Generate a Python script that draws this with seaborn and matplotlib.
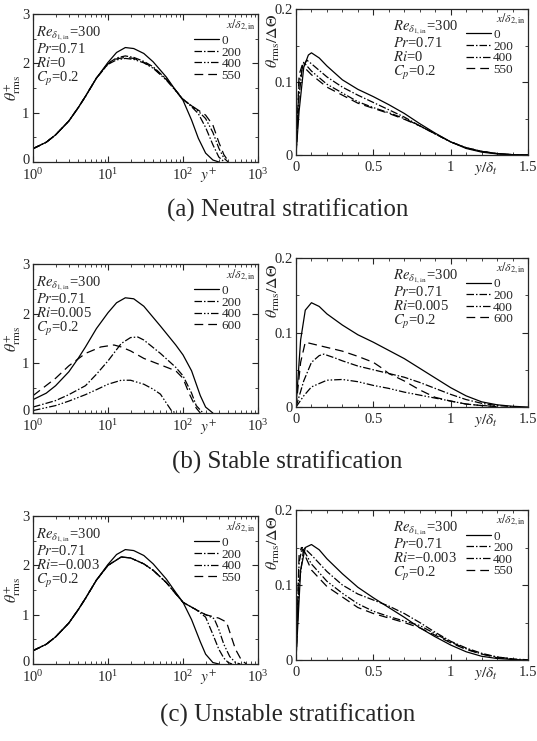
import numpy as np
import pandas as pd
import matplotlib
matplotlib.use("Agg")
import matplotlib.pyplot as plt
from matplotlib.lines import Line2D
from matplotlib.ticker import MultipleLocator
from matplotlib.transforms import ScaledTranslation
import seaborn as sns

# ---- data ----
# log-x panels: y+ vs theta+_rms
yp_a0 = [1, 1.5, 2, 3, 4, 5, 7, 10, 13, 17, 22, 30, 40, 60, 80, 100, 130, 160, 200, 250, 300]
th_a0 = [0.27, 0.4, 0.55, 0.83, 1.1, 1.33, 1.7, 2.02, 2.22, 2.32, 2.3, 2.2, 2.03, 1.72, 1.45, 1.25, 0.85, 0.48, 0.18, 0.04, 0.0]
yp_a200 = [1, 1.5, 2, 3, 4, 5, 7, 10, 13, 17, 22, 30, 40, 60, 80, 100, 130, 160, 200, 250, 300, 350]
th_a200 = [0.27, 0.4, 0.55, 0.83, 1.1, 1.33, 1.7, 2.0, 2.11, 2.15, 2.12, 2.04, 1.93, 1.68, 1.45, 1.27, 1.12, 0.98, 0.7, 0.35, 0.1, 0.01]
yp_a400 = [1, 1.5, 2, 3, 4, 5, 7, 10, 13, 17, 22, 30, 40, 60, 80, 100, 130, 160, 200, 250, 300, 350, 400]
th_a400 = [0.27, 0.4, 0.55, 0.83, 1.1, 1.33, 1.7, 1.98, 2.07, 2.1, 2.08, 2.01, 1.9, 1.66, 1.44, 1.27, 1.14, 1.03, 0.88, 0.6, 0.28, 0.08, 0.0]
yp_a550 = [1, 1.5, 2, 3, 4, 5, 7, 10, 13, 17, 22, 30, 40, 60, 80, 100, 130, 160, 200, 250, 300, 350, 400]
th_a550 = [0.27, 0.4, 0.55, 0.83, 1.1, 1.33, 1.7, 1.99, 2.09, 2.12, 2.1, 2.02, 1.91, 1.67, 1.45, 1.27, 1.14, 1.05, 0.95, 0.75, 0.4, 0.15, 0.02]

yp_b0 = [1, 1.5, 2, 3, 4, 5, 7, 10, 13, 17, 22, 30, 50, 80, 100, 130, 170, 200, 250]
th_b0 = [0.27, 0.4, 0.55, 0.83, 1.1, 1.33, 1.7, 2.02, 2.22, 2.32, 2.3, 2.15, 1.75, 1.37, 1.17, 0.85, 0.35, 0.12, 0.0]
yp_b200 = [1, 2, 3, 5, 7, 10, 15, 20, 25, 30, 50, 80, 100, 130, 150, 180]
th_b200 = [0.12, 0.25, 0.37, 0.55, 0.78, 1.05, 1.4, 1.52, 1.53, 1.47, 1.2, 0.92, 0.75, 0.4, 0.15, 0.02]
yp_b400 = [1, 2, 3, 5, 7, 10, 15, 20, 30, 40, 50, 60, 70, 80]
th_b400 = [0.05, 0.15, 0.24, 0.37, 0.47, 0.58, 0.66, 0.66, 0.58, 0.48, 0.38, 0.2, 0.05, 0.0]
yp_b600 = [1, 2, 3, 5, 8, 12, 15, 20, 30, 50, 80, 100, 120, 150, 170]
th_b600 = [0.35, 0.7, 0.95, 1.2, 1.33, 1.37, 1.33, 1.25, 1.1, 0.97, 0.85, 0.7, 0.4, 0.1, 0.0]

yp_c0 = [1, 1.5, 2, 3, 4, 5, 7, 10, 13, 17, 22, 30, 40, 60, 80, 100, 130, 170, 200, 250, 300]
th_c0 = [0.27, 0.4, 0.55, 0.83, 1.1, 1.33, 1.7, 2.02, 2.22, 2.32, 2.3, 2.2, 2.03, 1.72, 1.45, 1.25, 0.9, 0.45, 0.2, 0.03, 0.0]
yp_c200 = [1, 1.5, 2, 3, 4, 5, 7, 10, 15, 20, 30, 40, 60, 100, 150, 200, 250, 300, 350, 400, 450]
th_c200 = [0.27, 0.4, 0.55, 0.83, 1.1, 1.33, 1.7, 2.0, 2.17, 2.15, 2.03, 1.9, 1.65, 1.25, 1.1, 0.95, 0.6, 0.3, 0.12, 0.03, 0.0]
yp_c400 = [1, 1.5, 2, 3, 4, 5, 7, 10, 15, 20, 30, 40, 60, 100, 150, 200, 260, 300, 350, 420, 500, 580]
th_c400 = [0.27, 0.4, 0.55, 0.83, 1.1, 1.33, 1.7, 2.0, 2.17, 2.15, 2.03, 1.9, 1.65, 1.25, 1.1, 1.0, 0.92, 0.7, 0.4, 0.15, 0.03, 0.0]
yp_c550 = [1, 1.5, 2, 3, 4, 5, 7, 10, 15, 20, 30, 40, 60, 100, 150, 200, 300, 380, 430, 500, 600, 700]
th_c550 = [0.27, 0.4, 0.55, 0.83, 1.1, 1.33, 1.7, 2.0, 2.17, 2.15, 2.03, 1.9, 1.65, 1.25, 1.1, 1.0, 0.93, 0.85, 0.6, 0.3, 0.08, 0.0]

# linear panels: y/delta_t vs theta_rms/DeltaTheta
yd_a0 = [0, 0.02, 0.05, 0.08, 0.1, 0.15, 0.2, 0.3, 0.4, 0.5, 0.6, 0.7, 0.8, 0.9, 1.0, 1.1, 1.2, 1.3, 1.4, 1.5]
tr_a0 = [0, 0.06, 0.12, 0.137, 0.14, 0.133, 0.122, 0.103, 0.09, 0.08, 0.069, 0.057, 0.043, 0.03, 0.018, 0.009, 0.004, 0.0015, 0.0005, 0]
yd_a200 = [0, 0.02, 0.04, 0.07, 0.1, 0.2, 0.3, 0.4, 0.5, 0.6, 0.7, 0.8, 0.9, 1.0, 1.1, 1.2, 1.3, 1.4, 1.5]
tr_a200 = [0, 0.08, 0.12, 0.13, 0.125, 0.107, 0.093, 0.082, 0.072, 0.062, 0.052, 0.04, 0.029, 0.018, 0.01, 0.005, 0.002, 0.0005, 0]
yd_a400 = [0, 0.02, 0.05, 0.1, 0.2, 0.3, 0.4, 0.5, 0.6, 0.7, 0.8, 0.9, 1.0, 1.1, 1.2, 1.3, 1.4, 1.5]
tr_a400 = [0, 0.1, 0.127, 0.115, 0.097, 0.085, 0.073, 0.065, 0.058, 0.05, 0.04, 0.029, 0.018, 0.01, 0.005, 0.002, 0.0005, 0]
yd_a550 = [0, 0.02, 0.04, 0.1, 0.2, 0.3, 0.4, 0.5, 0.6, 0.7, 0.8, 0.9, 1.0, 1.1, 1.2, 1.3, 1.4, 1.5]
tr_a550 = [0, 0.11, 0.123, 0.11, 0.093, 0.082, 0.071, 0.064, 0.057, 0.049, 0.04, 0.029, 0.018, 0.01, 0.005, 0.002, 0.0005, 0]

yd_b0 = [0, 0.03, 0.06, 0.1, 0.15, 0.2, 0.3, 0.4, 0.5, 0.6, 0.7, 0.8, 0.9, 1.0, 1.1, 1.2, 1.3, 1.4, 1.5]
tr_b0 = [0, 0.09, 0.13, 0.14, 0.135, 0.125, 0.11, 0.097, 0.087, 0.076, 0.065, 0.052, 0.039, 0.026, 0.015, 0.007, 0.003, 0.001, 0]
yd_b200 = [0, 0.05, 0.1, 0.15, 0.18, 0.25, 0.3, 0.4, 0.5, 0.6, 0.7, 0.8, 0.9, 1.0, 1.1, 1.2, 1.3, 1.4]
tr_b200 = [0, 0.035, 0.06, 0.069, 0.071, 0.066, 0.062, 0.055, 0.05, 0.045, 0.04, 0.033, 0.025, 0.017, 0.01, 0.005, 0.002, 0.0005]
yd_b400 = [0, 0.05, 0.1, 0.2, 0.3, 0.4, 0.5, 0.6, 0.7, 0.8, 0.9, 1.0, 1.1, 1.2, 1.3]
tr_b400 = [0, 0.015, 0.027, 0.036, 0.037, 0.034, 0.029, 0.025, 0.02, 0.016, 0.012, 0.008, 0.004, 0.002, 0.001]
yd_b600 = [0, 0.03, 0.06, 0.2, 0.3, 0.4, 0.5, 0.55, 0.6, 0.7, 0.8, 0.9, 1.0, 1.1, 1.2, 1.3]
tr_b600 = [0, 0.06, 0.087, 0.08, 0.075, 0.068, 0.06, 0.053, 0.045, 0.035, 0.023, 0.013, 0.008, 0.004, 0.002, 0.0005]

yd_c0 = [0, 0.03, 0.06, 0.1, 0.15, 0.2, 0.3, 0.4, 0.5, 0.6, 0.7, 0.8, 0.9, 1.0, 1.1, 1.2, 1.3, 1.4, 1.5]
tr_c0 = [0, 0.12, 0.15, 0.154, 0.147, 0.135, 0.115, 0.097, 0.083, 0.07, 0.057, 0.043, 0.031, 0.02, 0.011, 0.005, 0.002, 0.0007, 0]
yd_c200 = [0, 0.02, 0.05, 0.1, 0.2, 0.3, 0.4, 0.5, 0.6, 0.7, 0.8, 0.9, 1.0, 1.1, 1.2, 1.3, 1.4, 1.5]
tr_c200 = [0, 0.1, 0.15, 0.14, 0.118, 0.1, 0.088, 0.08, 0.072, 0.062, 0.05, 0.037, 0.025, 0.016, 0.009, 0.004, 0.0015, 0.0003]
yd_c400 = [0, 0.02, 0.04, 0.1, 0.2, 0.3, 0.4, 0.5, 0.6, 0.7, 0.8, 0.9, 1.0, 1.1, 1.2, 1.3, 1.4]
tr_c400 = [0, 0.13, 0.15, 0.128, 0.105, 0.089, 0.075, 0.065, 0.058, 0.052, 0.046, 0.035, 0.024, 0.015, 0.008, 0.004, 0.0015]
yd_c550 = [0, 0.02, 0.035, 0.1, 0.2, 0.3, 0.4, 0.5, 0.6, 0.7, 0.8, 0.9, 1.0, 1.1, 1.2, 1.3, 1.4]
tr_c550 = [0, 0.14, 0.15, 0.12, 0.098, 0.084, 0.07, 0.062, 0.056, 0.05, 0.043, 0.033, 0.023, 0.014, 0.008, 0.003, 0.001]

labels_a = ["0", "200", "400", "550"]
labels_b = ["0", "200", "400", "600"]
labels_c = ["0", "200", "400", "550"]

ri_values = ["0", "0.005", "\u22120.003"]
captions = ["(a) Neutral stratification", "(b) Stable stratification", "(c) Unstable stratification"]

# ---- style ----
sns.set_style("ticks")
plt.rcParams["font.family"] = ["Liberation Serif", "DejaVu Serif"]
plt.rcParams["mathtext.fontset"] = "stix"
plt.rcParams["xtick.direction"] = "in"
plt.rcParams["ytick.direction"] = "in"
plt.rcParams["xtick.top"] = True
plt.rcParams["ytick.right"] = True
plt.rcParams["axes.linewidth"] = 0.9

dash_styles = [(None, None), (6, 1.6, 1.2, 1.6), (6, 1.6, 1.2, 1.6, 1.2, 1.6), (7, 4)]


def make_df(xs, ys, labels):
    frames = []
    for x, y, lab in zip(xs, ys, labels):
        frames.append(pd.DataFrame({"x": x, "y": y, "case": lab}))
    return pd.concat(frames, ignore_index=True)


def draw_panel(ax, xs, ys, labels, leg_x, leg_y):
    df = make_df(xs, ys, labels)
    dashes = {lab: ("" if d[0] is None else d) for lab, d in zip(labels, dash_styles)}
    sns.lineplot(data=df, x="x", y="y", style="case", style_order=labels,
                 dashes=dashes, color="black", linewidth=0.9, sort=False,
                 estimator=None, legend=False, ax=ax)
    handles = []
    for d in dash_styles:
        h = Line2D([0], [0], color="black", lw=0.9)
        if d[0] is not None:
            h.set_dashes(d)
        handles.append(h)
    ax.legend(handles, labels, loc="upper right", bbox_to_anchor=(leg_x, leg_y - 0.02),
              frameon=False, fontsize=9.5, handlelength=1.9,
              labelspacing=-0.05, handletextpad=0.15, borderaxespad=0.0,
              borderpad=0.0)
    ax.text(0.99, leg_y + 0.045, r"$x/\delta_{2,\rm in}$", transform=ax.transAxes,
            ha="right", va="center", fontsize=8.5)
    ax.set_xlabel("")
    ax.set_ylabel("")
    ax.tick_params(which="both", labelsize=10.5)
    ax.tick_params(axis="x", pad=4)
    ax.tick_params(axis="y", pad=2.5)
    ax.tick_params(which="major", length=4, width=0.8)
    ax.tick_params(which="minor", length=2.5, width=0.6)


def annot(ax, x0, y0, ri):
    txt = "\n".join([r"$Re_{\delta_{1,\rm in}}$=300", r"$Pr$=0.71",
                     r"$Ri$=" + ri, r"$C_p$=0.2"])
    ax.text(x0, y0, txt, transform=ax.transAxes, va="top", ha="left",
            fontsize=10.5, linespacing=1.0)


fig = plt.figure(figsize=(5.37, 7.41), dpi=100)

left_pos = [[0.0615, 0.7814, 0.419, 0.1997],
            [0.0615, 0.4426, 0.419, 0.2011],
            [0.0615, 0.1039, 0.419, 0.1997]]
right_pos = [[0.5512, 0.7908, 0.432, 0.197],
             [0.5512, 0.4507, 0.432, 0.2011],
             [0.5512, 0.1093, 0.432, 0.2024]]
cap_y = [0.7166, 0.3765, 0.0351]

left_sets = [
    ([yp_a0, yp_a200, yp_a400, yp_a550], [th_a0, th_a200, th_a400, th_a550], labels_a),
    ([yp_b0, yp_b200, yp_b400, yp_b600], [th_b0, th_b200, th_b400, th_b600], labels_b),
    ([yp_c0, yp_c200, yp_c400, yp_c550], [th_c0, th_c200, th_c400, th_c550], labels_c),
]
right_sets = [
    ([yd_a0, yd_a200, yd_a400, yd_a550], [tr_a0, tr_a200, tr_a400, tr_a550], labels_a),
    ([yd_b0, yd_b200, yd_b400, yd_b600], [tr_b0, tr_b200, tr_b400, tr_b600], labels_b),
    ([yd_c0, yd_c200, yd_c400, yd_c550], [tr_c0, tr_c200, tr_c400, tr_c550], labels_c),
]

lift = ScaledTranslation(0, 2.5 / 72, fig.dpi_scale_trans)

for i in range(3):
    # left: log y+
    ax = fig.add_axes(left_pos[i])
    xs, ys, labs = left_sets[i]
    draw_panel(ax, xs, ys, labs, 0.925, 0.88)
    ax.set_xscale("log")
    ax.set_xlim(1, 1000)
    ax.set_ylim(0, 3)
    ax.set_yticks([0, 1, 2, 3])
    ax.yaxis.set_minor_locator(MultipleLocator(0.5))
    ax.set_ylabel(r"$\theta^{+}_{\rm rms}$", fontsize=11.5)
    ax.yaxis.set_label_coords(-0.045, 0.5)
    ax.text(0.78, -0.035, r"$y^{+}$", transform=ax.transAxes, ha="center", va="top", fontsize=11)
    annot(ax, 0.015, 0.93, ri_values[i])
    # nudge the "0" label up a little, as in the original
    zero_lab = ax.yaxis.get_major_ticks()[0].label1
    zero_lab.set_transform(zero_lab.get_transform() + lift)

    # right: linear y/delta_t
    ax = fig.add_axes(right_pos[i])
    xs, ys, labs = right_sets[i]
    draw_panel(ax, xs, ys, labs, 0.935, 0.885)
    ax.set_xlim(0, 1.5)
    ax.set_ylim(0, 0.2)
    ax.set_xticks([0, 0.5, 1, 1.5])
    ax.set_xticklabels(["0", "0.5", "1", "1.5"])
    ax.set_yticks([0, 0.1, 0.2])
    ax.set_yticklabels(["0", "0.1", "0.2"])
    ax.xaxis.set_minor_locator(MultipleLocator(0.1))
    ax.yaxis.set_minor_locator(MultipleLocator(0.05))
    ax.set_ylabel(r"$\theta_{\rm rms}/\Delta\Theta$", fontsize=11.5)
    ax.yaxis.set_label_coords(-0.06, 0.78)
    ax.text(0.82, -0.035, r"$y/\delta_t$", transform=ax.transAxes, ha="center", va="top", fontsize=11)
    annot(ax, 0.42, 0.94, ri_values[i])

    fig.text(0.535, cap_y[i], captions[i], ha="center", va="center", fontsize=18)

fig.savefig("out.png", dpi=100)
